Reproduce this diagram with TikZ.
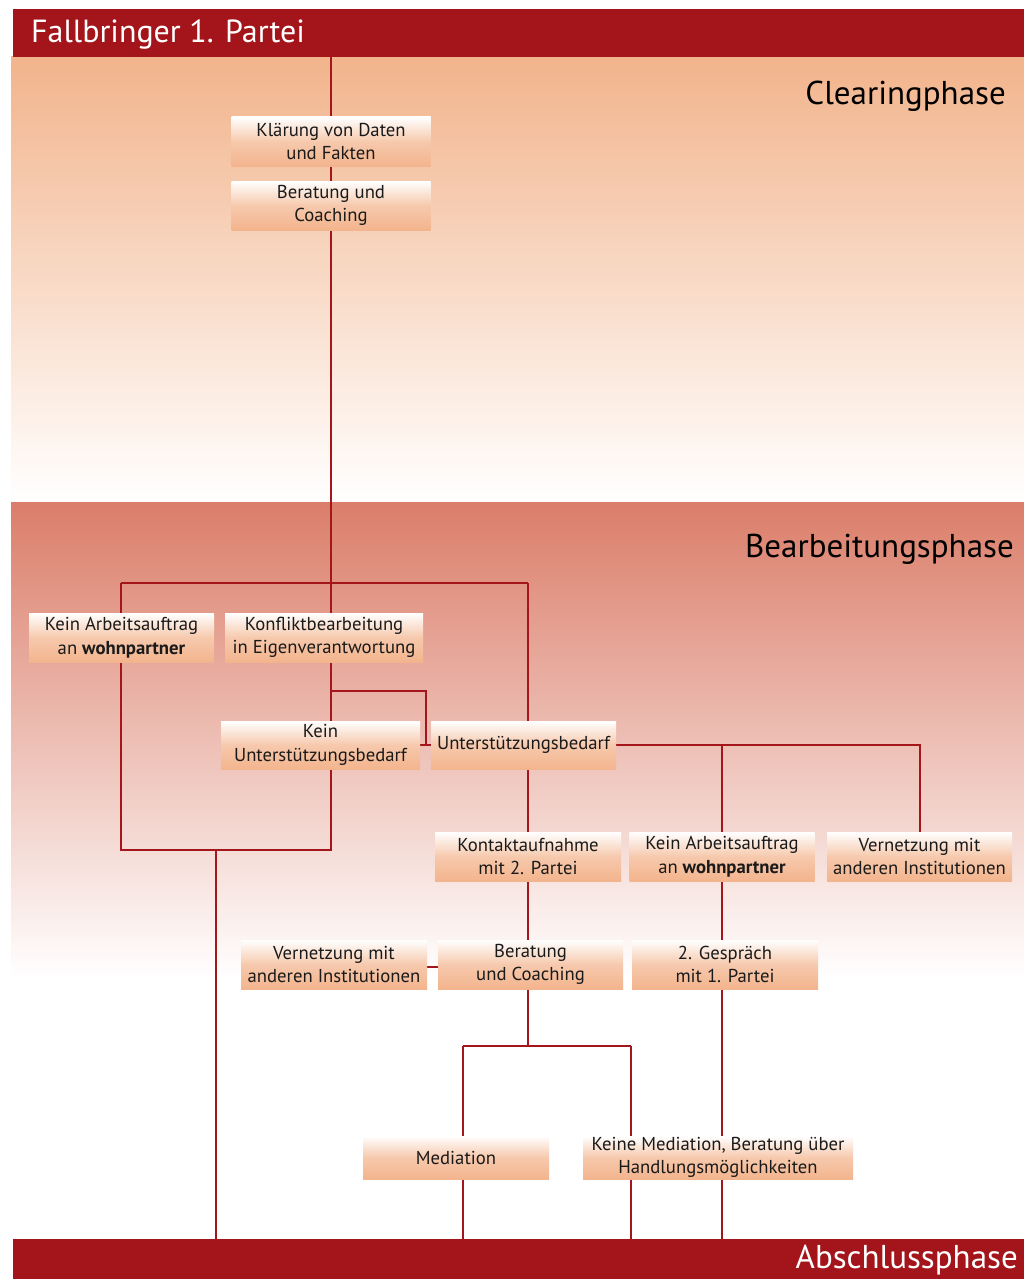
\documentclass[tikz,border=0pt]{standalone}
\usepackage{fontspec}
\setmainfont{PT Sans}
\definecolor{dred}{HTML}{A3151A}
\definecolor{lred}{HTML}{A5161C}
\definecolor{clearc}{HTML}{F2B48C}
\definecolor{bearbc}{HTML}{DB7E6A}
\definecolor{boxor}{HTML}{F3B48D}
\definecolor{txtc}{HTML}{1A1A1A}
\pgfdeclarelayer{bg}
\pgfdeclarelayer{lines}
\pgfsetlayers{bg,lines,main}
\tikzset{
  box/.style={top color=white, bottom color=boxor, middle color=boxor!72!white,
    inner sep=0pt, align=center, text=txtc, font=\fontsize{18.7}{23.5}\selectfont,
    minimum height=49pt},
  band/.style={fill=dred, inner sep=0pt},
  conn/.style={draw=lred, line width=2.9pt},
  phaselbl/.style={font=\fontsize{33}{38}\selectfont, text=black, anchor=east, inner sep=0pt},
  bandlbl/.style={font=\fontsize{32}{38}\selectfont, text=white, inner sep=0pt}
}
\begin{document}
\begin{tikzpicture}[x=1pt,y=-1pt]
\useasboundingbox (0,0) rectangle (1024,1279);
\begin{pgfonlayer}{bg}
  \fill[white] (0,0) rectangle (1024,1279);
  \shade[top color=clearc, bottom color=white] (11,57) rectangle (1024,502);
  \shade[top color=bearbc, bottom color=white] (11,502) rectangle (1024,978);
\end{pgfonlayer}

% bands
\node[band, minimum width=1011pt, minimum height=48pt, anchor=north west] (hdr) at (13,9) {};
\node[bandlbl, anchor=west] (hdrtxt) at (31,35) {Fallbringer 1. Partei};
\node[band, minimum width=1011pt, minimum height=40pt, anchor=north west] (bot) at (13,1239) {};
\node[bandlbl, anchor=east, font=\fontsize{33}{38}\selectfont] (bottxt) at (1018,1260) {Abschlussphase};

% phase labels
\node[phaselbl] (clr) at (1006,96) {Clearingphase};
\node[phaselbl] (bea) at (1014,549) {Bearbeitungsphase};

% boxes
\node[box, minimum width=199pt] (klar) at (331,141.5) {Klärung von Daten\\und Fakten};
\node[box, minimum width=199pt] (ber1) at (331,205.5) {Beratung und\\Coaching};
\node[box, minimum width=185pt] (kein1) at (121.5,637.5) {Kein Arbeitsauftrag\\an \textbf{wohnpartner}};
\node[box, minimum width=198pt] (konf) at (324,637.5) {Konfliktbearbeitung\\in Eigenverantwortung};
\node[box, minimum width=199pt, minimum height=48pt] (keinU) at (320.5,745) {Kein\\Unterstützungsbedarf};
\node[box, minimum width=185pt, minimum height=48pt] (unt) at (523.5,745) {Unterstützungsbedarf};
\node[box, minimum width=186pt] (kont) at (528,856.5) {Kontaktaufnahme\\mit 2. Partei};
\node[box, minimum width=185pt] (kein2) at (722,856.5) {Kein Arbeitsauftrag\\an \textbf{wohnpartner}};
\node[box, minimum width=185pt] (vern1) at (919.5,856.5) {Vernetzung mit\\anderen Institutionen};
\node[box, minimum width=186pt] (vern2) at (334,964.5) {Vernetzung mit\\anderen Institutionen};
\node[box, minimum width=185pt] (ber2) at (530.5,964.5) {Beratung\\und Coaching};
\node[box, minimum width=186pt] (gesp) at (725,964.5) {2. Gespräch\\mit 1. Partei};
\node[box, minimum width=186pt, minimum height=43pt] (med) at (456,1157.5) {Mediation};
\node[box, minimum width=270pt, minimum height=43pt] (keinM) at (718,1157.5) {Keine Mediation, Beratung über\\Handlungsmöglichkeiten};

% junctions
\coordinate (j1) at (331,583);
\coordinate (jL) at (121,583);
\coordinate (jR) at (528,583);
\coordinate (j2) at (331,691);
\coordinate (j2r) at (426,691);
\coordinate (j3) at (331,850);
\coordinate (jB) at (216,850);
\coordinate (jU) at (722,745);
\coordinate (jV) at (920,745);
\coordinate (jM) at (528,1046);
\coordinate (jML) at (463,1046);
\coordinate (jMR) at (631,1046);

\begin{pgfonlayer}{lines}
  \draw[conn] (klar.north |- hdr.south) -- (klar.north);
  \draw[conn] (klar) -- (ber1);
  \draw[conn] (ber1.south) -- (j1) -- (j1 |- konf.north);
  \draw[conn] (jL) -- (jR);
  \draw[conn] (jL) -- (jL |- kein1.north);
  \draw[conn] (jR) -- (jR |- unt.north);
  \draw[conn] (j1 |- konf.south) -- (j1 |- keinU.north);
  \draw[conn] (j2) -- (j2r) -- (j2r |- keinU.east);
  \draw[conn] (keinU.east) -- (unt.west);
  \draw[conn] (j1 |- keinU.south) -- (j3) -- (jL |- j3) -- (jL |- kein1.south);
  \draw[conn] (jB) -- (jB |- bot.north);
  \draw[conn] (jR |- unt.south) -- (kont.north);
  \draw[conn] (unt.east) -- (jV) -- (jV |- vern1.north);
  \draw[conn] (jU) -- (kein2.north);
  \draw[conn] (kein2.south) -- (kein2.south |- gesp.north);
  \draw[conn] (kein2 |- gesp.south) -- (kein2 |- bot.north);
  \draw[conn] (kont.south) -- (kont.south |- ber2.north);
  \draw[conn] (vern2.east |- 0,967) -- (ber2.west |- 0,967);
  \draw[conn] (jM |- ber2.south) -- (jM);
  \draw[conn] (jML) -- (jMR);
  \draw[conn] (jML) -- (jML |- med.north);
  \draw[conn] (jML |- med.south) -- (jML |- bot.north);
  \draw[conn] (jMR) -- (jMR |- bot.north);
\end{pgfonlayer}
\end{tikzpicture}
\end{document}
